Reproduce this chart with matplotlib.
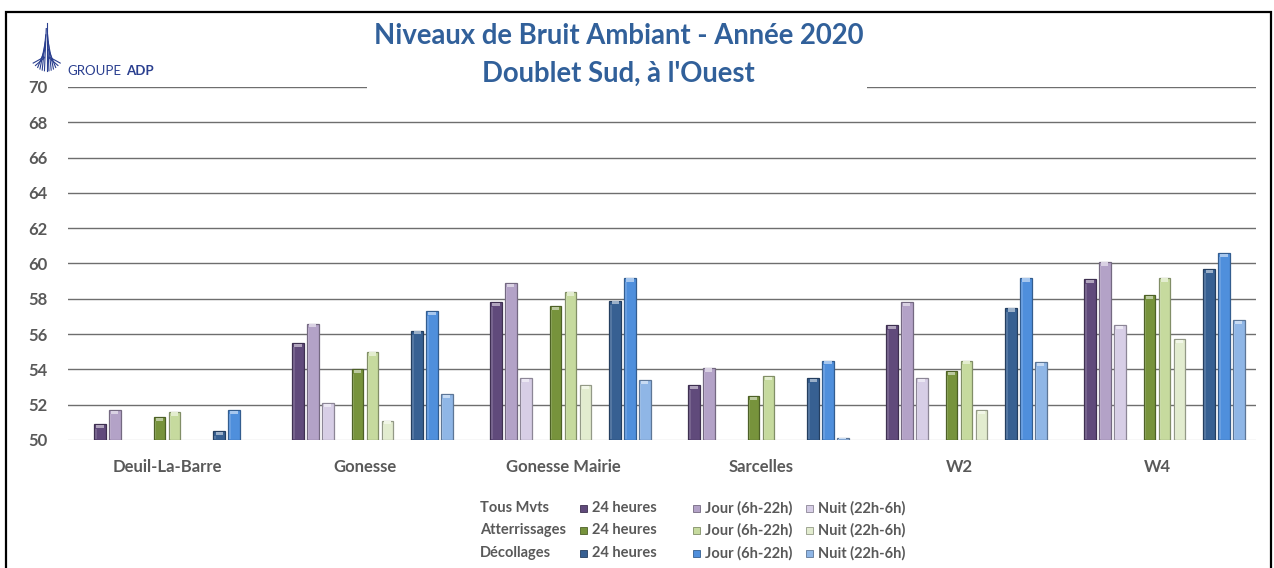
import matplotlib
matplotlib.use("Agg")
import matplotlib.pyplot as plt
import numpy as np
from matplotlib.patches import Rectangle
from matplotlib.lines import Line2D
import matplotlib.colors as mcolors

plt.rcParams['font.family'] = ['Lato', 'DejaVu Sans']

# ---------------- data ----------------
sites = ["Deuil-La-Barre", "Gonesse", "Gonesse Mairie", "Sarcelles", "W2", "W4"]
groups = ["Tous Mvts", "Atterrissages", "Décollages"]
periods = ["24 heures", "Jour (6h-22h)", "Nuit (22h-6h)"]

tous_24h  = [50.9, 55.5, 57.8, 53.1, 56.5, 59.1]
tous_jour = [51.7, 56.6, 58.9, 54.1, 57.8, 60.1]
tous_nuit = [np.nan, 52.1, 53.5, np.nan, 53.5, 56.5]

att_24h  = [51.3, 54.0, 57.6, 52.5, 53.9, 58.2]
att_jour = [51.6, 55.0, 58.4, 53.6, 54.5, 59.2]
att_nuit = [np.nan, 51.1, 53.1, np.nan, 51.7, 55.7]

dec_24h  = [50.5, 56.2, 57.9, 53.5, 57.5, 59.7]
dec_jour = [51.7, 57.3, 59.2, 54.5, 59.2, 60.6]
dec_nuit = [np.nan, 52.6, 53.4, 50.1, 54.4, 56.8]

yticks = [50, 52, 54, 56, 58, 60, 62, 64, 66, 68, 70]

series = [
    [tous_24h, tous_jour, tous_nuit],
    [att_24h, att_jour, att_nuit],
    [dec_24h, dec_jour, dec_nuit],
]
colors = [
    ["#604A7B", "#B3A2C7", "#D7CEE6"],
    ["#77933C", "#C6DA9E", "#E2ECCF"],
    ["#376092", "#4F8FDC", "#8FB6E6"],
]

# ---------------- layout ----------------
W, H = 1274, 568
def fx(px): return px / W
def fy(py): return 1 - py / H

fig = plt.figure(figsize=(W / 100, H / 100), dpi=100)
ax = fig.add_axes([fx(68), fy(440), fx(1256) - fx(68), fy(87) - fy(440)])

x = np.arange(len(sites))
slot = 0.0752
barw = 0.058
slots = [[1, 2, 3], [5, 6, 7], [9, 10, 11]]

def darker(c, f=0.72):
    r, g, b = mcolors.to_rgb(c)
    return (r * f, g * f, b * f)

def lighter(c, f=0.55):
    r, g, b = mcolors.to_rgb(c)
    return (r + (1 - r) * f, g + (1 - g) * f, b + (1 - b) * f)

for gi in range(3):
    for pi in range(3):
        vals = np.array(series[gi][pi], dtype=float)
        pos = x + (slots[gi][pi] - 5.5) * slot
        col = colors[gi][pi]
        ax.bar(pos, vals - 50, bottom=50, width=barw, color=col,
               edgecolor=darker(col, 0.65), linewidth=0.9, zorder=3)
        # bevel highlights
        ax.bar(pos, np.where(np.isnan(vals), np.nan, np.minimum(0.18, (vals - 50) * 0.5)),
               bottom=vals - np.minimum(0.22, (vals - 50) * 0.6), width=barw * 0.62,
               color=lighter(col, 0.5), linewidth=0, zorder=4)
        ax.bar(pos - barw * 0.36, vals - 50 - 0.3, bottom=50.05, width=barw * 0.12,
               color=lighter(col, 0.25), linewidth=0, zorder=4, alpha=0.6)

ax.set_xlim(-0.5, 5.5)
ax.set_ylim(50, 70)
ax.set_yticks(yticks)
ax.set_yticklabels([str(t) for t in yticks])
for t in yticks:
    ax.axhline(t, color="#D9D9D9" if t == 50 else "#6E6E6E", linewidth=1.0, zorder=1)

ax.set_xticks(x)
ax.set_xticklabels(sites)
ax.tick_params(axis="both", length=0, labelcolor="#595959", labelsize=12)
ax.tick_params(axis="y", pad=15)
ax.tick_params(axis="x", pad=14)
for lab in ax.get_xticklabels() + ax.get_yticklabels():
    lab.set_fontweight("bold")
for s in ax.spines.values():
    s.set_visible(False)

# white box behind title, hiding part of the 70 gridline
fig.add_artist(Rectangle((fx(367), fy(96)), fx(867) - fx(367), fy(80) - fy(96),
                         transform=fig.transFigure, facecolor="white",
                         edgecolor="none", zorder=5))

title_col = "#31609A"
fig.text(fx(619), fy(36), "Niveaux de Bruit Ambiant - Année 2020", ha="center",
         va="center", fontsize=19.8, fontweight="bold", color=title_col, zorder=6)
fig.text(fx(618), fy(74), "Doublet Sud, à l'Ouest", ha="center",
         va="center", fontsize=19.8, fontweight="bold", color=title_col, zorder=6)

# frame
fig.add_artist(Rectangle((fx(6), fy(575)), fx(1271) - fx(6), fy(12) - fy(575),
                         transform=fig.transFigure, facecolor="none",
                         edgecolor="black", linewidth=1.6, zorder=7))

# logo (fan of converging strokes)
navy = "#2A3F8F"
cx = 46.7
for j in range(-6, 7):
    a = abs(j)
    bx = cx + j * 2.25
    by = 71 - a * a * 0.22
    tx = cx + j * 0.45
    ty = 23 + a * 5.2 + a * a * 0.35
    if ty > by - 6:
        ty = by - 6
    fig.add_artist(Line2D([fx(bx), fx(tx)], [fy(by), fy(ty)],
                          transform=fig.transFigure, color=navy, linewidth=0.8))
t1 = fig.text(fx(67), fy(71), "GROUPE", ha="left", va="center", fontsize=9.5,
              color=navy)
fig.canvas.draw()
bb = t1.get_window_extent()
fig.text((bb.x1 + 5) / W, fy(71), "ADP", ha="left", va="center", fontsize=9.5,
         color=navy, fontweight="bold")

# legend (manual table)
row_y = [508, 530, 553]
marker_x = [583, 696, 809]
text_x = [592, 705, 818]
txt_col = "#595959"
for gi in range(3):
    fig.text(fx(480), fy(row_y[gi]), groups[gi], ha="left", va="center",
             fontsize=10.5, fontweight="bold", color=txt_col)
    for pi in range(3):
        col = colors[gi][pi]
        s = 7
        fig.add_artist(Rectangle((fx(marker_x[pi] - s / 2), fy(row_y[gi] + s / 2)),
                                 fx(s), s / H, transform=fig.transFigure,
                                 facecolor=col, edgecolor=darker(col, 0.65),
                                 linewidth=0.6))
        fig.text(fx(text_x[pi]), fy(row_y[gi]), periods[pi], ha="left", va="center",
                 fontsize=10.5, fontweight="bold", color=txt_col)

fig.savefig("out.png", dpi=100)
